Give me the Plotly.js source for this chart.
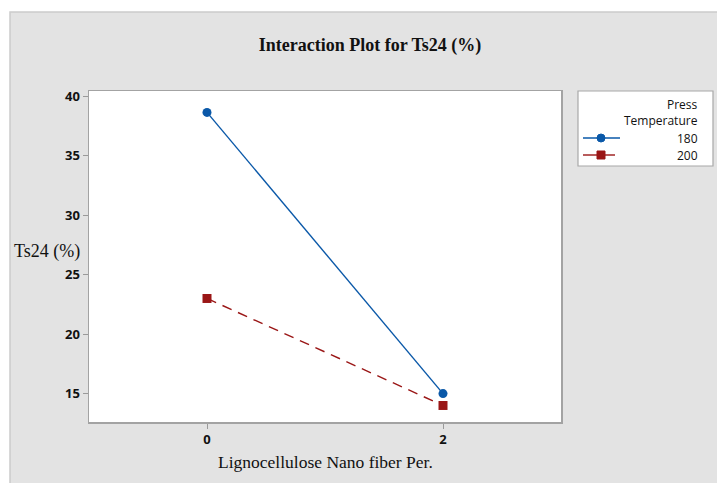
<!DOCTYPE html>
<html>
<head>
<meta charset="utf-8">
<script src="https://cdn.plot.ly/plotly-3.0.1.min.js"></script>
<style>
  html, body { margin: 0; padding: 0; background: #ffffff; }
  #chart { width: 717px; height: 483px; }
</style>
</head>
<body>
<div id="chart"></div>
<script>
// Mean Ts24 (%) by nano fiber percentage, one line per press temperature
const fiberLevels = [0, 2];
const temperatureLevels = ['180', '200'];
const ts24At180 = [38.65, 15.0];
const ts24At200 = [23.0, 14.0];
const yTicks = [15, 20, 25, 30, 35, 40];
const xTicks = [0, 2];

const W = 717, H = 483;
const M = { l: 89, r: 156, t: 91, b: 61 };
const plotW = W - M.l - M.r, plotH = H - M.t - M.b;
// pixel -> paper helpers for the frame decorations
const px = v => (v - M.l) / plotW;
const py = v => (H - M.b - v) / plotH;

const sans = 'Open Sans, DejaVu Sans, sans-serif';
const serif = 'Liberation Serif, Times New Roman, serif';

const blue = '#0a58a8';
const red = '#9a1616';

const traces = [
  {
    x: fiberLevels, y: ts24At180, name: temperatureLevels[0],
    type: 'scatter', mode: 'lines+markers',
    line: { color: blue, width: 1.4 },
    marker: { symbol: 'circle', size: 9, color: blue },
    showlegend: false, hoverinfo: 'skip'
  },
  {
    x: fiberLevels, y: ts24At200, name: temperatureLevels[1],
    type: 'scatter', mode: 'lines+markers',
    line: { color: red, width: 1.4, dash: '10px,7px' },
    marker: { symbol: 'square', size: 9, color: red },
    showlegend: false, hoverinfo: 'skip'
  }
];

// legend box geometry (pixels)
const lg = { x0: 578, x1: 713, y0: 91, y1: 166, textRight: 700 };
const rowY = [138, 155];

const shapes = [
  // grey panel behind everything
  { type: 'rect', xref: 'paper', yref: 'paper', layer: 'below',
    x0: px(10), x1: px(W + 5), y0: py(12), y1: py(H + 5),
    fillcolor: '#e3e3e3', line: { color: '#cccccc', width: 1.5 } },
  // white plotting region
  { type: 'rect', xref: 'paper', yref: 'paper', layer: 'below',
    x0: 0, x1: 1, y0: 0, y1: 1, fillcolor: '#ffffff', line: { width: 0 } },
  // legend box
  { type: 'rect', xref: 'paper', yref: 'paper',
    x0: px(lg.x0), x1: px(lg.x1), y0: py(lg.y1), y1: py(lg.y0),
    fillcolor: '#ffffff', line: { color: '#a8a8a8', width: 1.2 } },
  // legend samples
  { type: 'line', xref: 'paper', yref: 'paper',
    x0: px(583), x1: px(620), y0: py(rowY[0]), y1: py(rowY[0]),
    line: { color: blue, width: 1.4 } },
  { type: 'circle', xref: 'paper', yref: 'paper',
    x0: px(597), x1: px(605), y0: py(rowY[0] + 4), y1: py(rowY[0] - 4),
    fillcolor: blue, line: { color: blue, width: 1 } },
  { type: 'line', xref: 'paper', yref: 'paper',
    x0: px(583), x1: px(615), y0: py(rowY[1]), y1: py(rowY[1]),
    line: { color: red, width: 1.4 } },
  { type: 'rect', xref: 'paper', yref: 'paper',
    x0: px(597), x1: px(605), y0: py(rowY[1] + 4), y1: py(rowY[1] - 4),
    fillcolor: red, line: { color: red, width: 1 } }
];

const legendFont = { family: sans, size: 12, color: '#111111', weight: 500 };
const annotations = [
  { text: 'Press', xref: 'paper', yref: 'paper', x: px(lg.textRight), y: py(104),
    xanchor: 'right', yanchor: 'middle', showarrow: false, font: legendFont },
  { text: 'Temperature', xref: 'paper', yref: 'paper', x: px(lg.textRight), y: py(120),
    xanchor: 'right', yanchor: 'middle', showarrow: false, font: legendFont },
  { text: temperatureLevels[0], xref: 'paper', yref: 'paper', x: px(lg.textRight), y: py(rowY[0]),
    xanchor: 'right', yanchor: 'middle', showarrow: false, font: legendFont },
  { text: temperatureLevels[1], xref: 'paper', yref: 'paper', x: px(lg.textRight), y: py(rowY[1]),
    xanchor: 'right', yanchor: 'middle', showarrow: false, font: legendFont },
  // axis titles
  { text: 'Ts24 (%)', xref: 'paper', yref: 'paper', x: px(47), y: py(252),
    xanchor: 'center', yanchor: 'middle', showarrow: false,
    font: { family: serif, size: 18, color: '#111111' } },
  { text: 'Lignocellulose Nano fiber Per.', xref: 'paper', yref: 'paper', x: px(325), y: py(462),
    xanchor: 'center', yanchor: 'middle', showarrow: false,
    font: { family: serif, size: 17.5, color: '#111111' } }
];

const axisCommon = {
  showline: true, mirror: true, linecolor: '#a3a3a3', linewidth: 1.5,
  showgrid: false, zeroline: false,
  ticks: 'outside', ticklen: 5, tickwidth: 1, tickcolor: '#9a9a9a',
  tickfont: { family: sans, size: 13, color: '#111111', weight: 'bold' }
};

const layout = {
  width: W, height: H,
  margin: M,
  paper_bgcolor: '#ffffff',
  plot_bgcolor: 'rgba(0,0,0,0)',
  title: {
    text: '<b>Interaction Plot for Ts24 (%)</b>',
    font: { family: serif, size: 18, color: '#111111' },
    xref: 'container', yref: 'container',
    x: 370 / W, y: 1 - 45 / H, xanchor: 'center', yanchor: 'middle'
  },
  xaxis: Object.assign({}, axisCommon, {
    range: [-1, 3], tickvals: xTicks, ticktext: xTicks.map(String)
  }),
  yaxis: Object.assign({}, axisCommon, {
    range: [12.61, 40.45], tickvals: yTicks, ticktext: yTicks.map(String)
  }),
  shapes: shapes,
  annotations: annotations,
  showlegend: false
};

Plotly.newPlot('chart', traces, layout, { displayModeBar: false, staticPlot: true });
</script>
</body>
</html>
